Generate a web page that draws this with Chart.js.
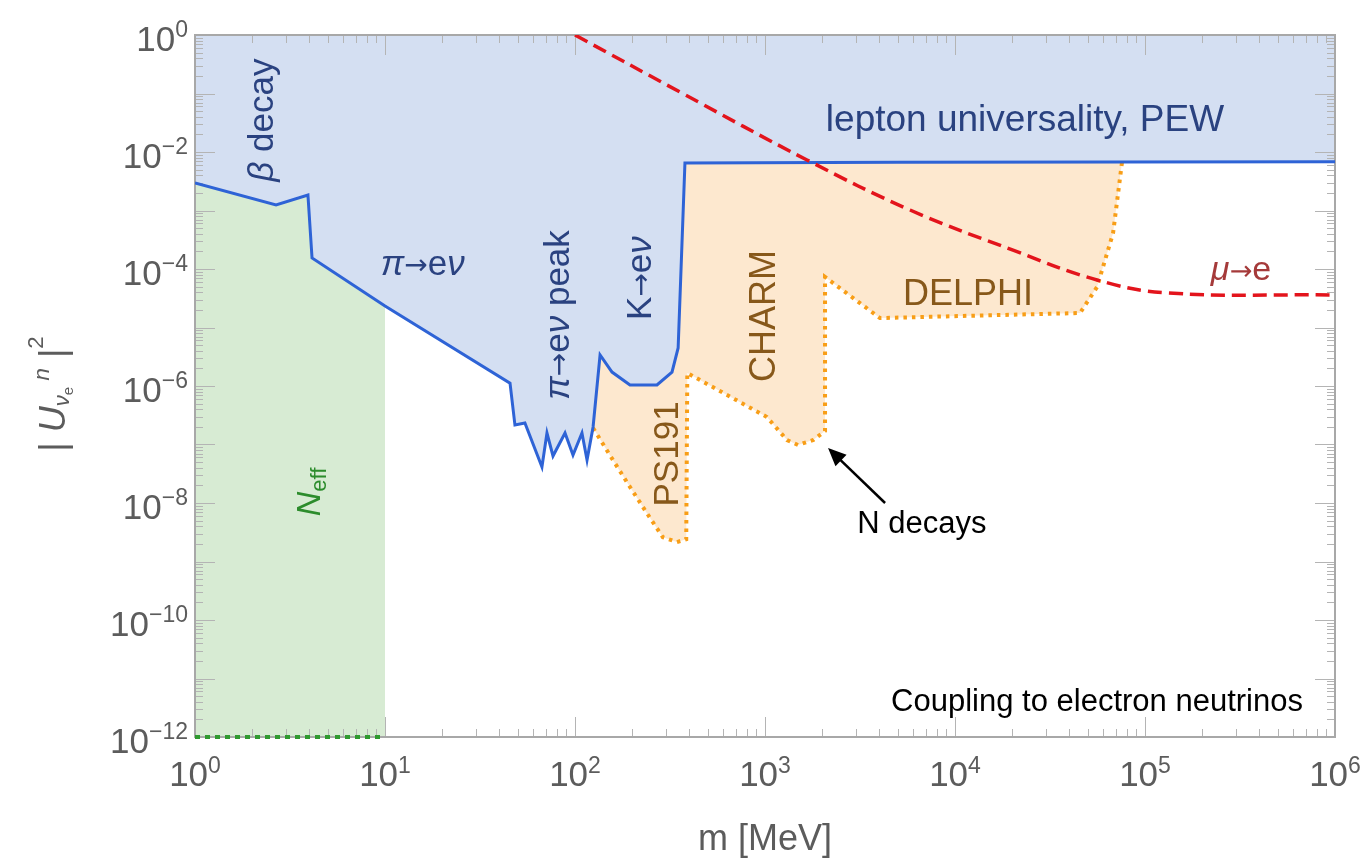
<!DOCTYPE html>
<html>
<head>
<meta charset="utf-8">
<script src="https://cdn.jsdelivr.net/npm/chart.js@4.4.1/dist/chart.umd.min.js"></script>
<style>
  html, body { margin: 0; padding: 0; background: #fff; }
</style>
</head>
<body>
<canvas id="chart" width="1367" height="862"></canvas>
<script>
// combined upper bound on |U|^2 (blue line), mass in MeV
const boundMass = [1, 2.67, 3.93, 4.13, 10, 45.5, 48.3, 54.5, 67, 71.2, 76.6, 88.6, 97.6, 108.8, 115.7,
  124.5, 135.5, 156.6, 194.7, 270, 324, 349, 379, 5000, 1e6];
const boundU2 = [2.95e-3, 1.24e-3, 1.84e-3, 1.54e-4, 2.33e-5, 1.12e-6, 2.15e-7, 2.33e-7, 4.12e-8, 1.57e-7, 6.36e-8,
  1.57e-7, 6.62e-8, 1.57e-7, 5.43e-8, 1.99e-7, 3.39e-6, 1.73e-6, 1.04e-6, 1.04e-6, 1.73e-6, 4.47e-6, 6.49e-3, 6.7e-3, 6.8e-3];

// N_eff excludes everything below this mass
const neffMaxMass = 10;
const neffFloor = 1e-12;

// direct searches for N decays (PS191, CHARM, DELPHI), lower edge
const decayMass = [124.5, 158.5, 194.7, 239, 290, 344, 385, 390, 1023, 1306, 1492, 1800, 2070, 2070,
  4027, 45500, 55900, 67900, 75700];
const decayU2 = [1.91e-7, 5.4e-8, 1.88e-8, 6.7e-9, 2.6e-9, 2.15e-9, 2.4e-9, 1.67e-6, 2.95e-7, 1.19e-7, 9.8e-8,
  1.2e-7, 1.7e-7, 7.3e-5, 1.45e-5, 1.77e-5, 4.9e-5, 4.1e-4, 6.75e-3];

// mu -> e conversion (red dashed)
const muMass = [100, 357, 1664, 5800, 20200, 55900, 130600, 1e6];
const muU2 = [1.0, 0.106, 7.3e-3, 1.02e-3, 2.1e-4, 6.5e-5, 3.9e-5, 3.6e-5];

// axis ticks
const xTickValues = [1, 10, 100, 1e3, 1e4, 1e5, 1e6];
const xTickExps = ['0', '1', '2', '3', '4', '5', '6'];
const yTickValues = [1, 1e-2, 1e-4, 1e-6, 1e-8, 1e-10, 1e-12];
const yTickExps = ['0', '\u22122', '\u22124', '\u22126', '\u22128', '\u221210', '\u221212'];

const NAVY = '#2a4280', BROWN = '#87581a', GREY = '#5c5c5c';
const FONT = '"Liberation Sans", Arial, Helvetica, sans-serif';
const ARROW = { t: '\u2192', f: '"DejaVu Sans"', s: 0.8, dy: -0.02 };

// text labels placed in data coordinates
const labels = [
  { segs: [{ t: '\u03b2', i: 1 }, { t: ' decay' }], x: 2.2, y: 0.035, rot: -90, color: NAVY, size: 35 },
  { segs: [{ t: '\u03c0', i: 1 }, ARROW, { t: 'e' }, { t: '\u03bd', i: 1 }], x: 15.8, y: 1.32e-4, rot: 0, color: NAVY, size: 35 },
  { segs: [{ t: '\u03c0', i: 1 }, ARROW, { t: 'e' }, { t: '\u03bd', i: 1 }, { t: ' peak' }], x: 79.4, y: 1.64e-5, rot: -90, color: NAVY, size: 35 },
  { segs: [{ t: 'K' }, ARROW, { t: 'e' }, { t: '\u03bd', i: 1 }], x: 215, y: 7.0e-5, rot: -90, color: NAVY, size: 35 },
  { segs: [{ t: 'lepton universality, PEW' }], x: 23350, y: 0.0381, rot: 0, color: NAVY, size: 37 },
  { segs: [{ t: 'CHARM' }], x: 964, y: 1.57e-5, rot: -90, color: BROWN, size: 36 },
  { segs: [{ t: 'DELPHI' }], x: 11700, y: 4.04e-5, rot: 0, color: BROWN, size: 36 },
  { segs: [{ t: 'PS191' }], x: 298, y: 6.9e-8, rot: -90, color: BROWN, size: 35 },
  { segs: [{ t: '\u03bc', i: 1 }, ARROW, { t: 'e' }], x: 320000, y: 1.04e-4, rot: 0, color: '#a53a3a', size: 34 },
  { segs: [{ t: 'N', i: 1 }, { t: 'eff', s: 0.65, dy: 0.2 }], x: 3.9, y: 1.55e-8, rot: -90, color: '#2c8c2c', size: 34 },
  { segs: [{ t: 'N decays' }], x: 6700, y: 4.7e-9, rot: 0, color: '#000', size: 31 },
  { segs: [{ t: 'Coupling to electron neutrinos' }], x: 55900, y: 4.3e-12, rot: 0, color: '#000', size: 31 }
];
const arrowFrom = { x: 4285, y: 1e-8 };
const arrowTo = { x: 2147, y: 8.7e-8 };

const pts = (xs, ys) => xs.map((v, i) => ({ x: v, y: ys[i] }));
const boundPts = pts(boundMass, boundU2);
const neffPts = boundPts.filter(p => p.x <= neffMaxMass);
const decayPts = pts(decayMass, decayU2);
const lo = decayMass[0], hi = decayMass[decayMass.length - 1];
const decayShape = decayPts.concat(boundPts.filter(p => p.x >= lo && p.x <= hi).reverse());

function drawRich(ctx, segs, cx, cy, size, color, rot) {
  ctx.save();
  ctx.translate(cx, cy);
  if (rot) ctx.rotate(rot * Math.PI / 180);
  let total = 0;
  const parts = segs.map(s => {
    const font = (s.i ? 'italic ' : '') + (size * (s.s || 1)) + 'px ' + (s.f || FONT);
    ctx.font = font;
    const w = ctx.measureText(s.t).width;
    total += w;
    return { t: s.t, font, w, dy: (s.dy || 0) * size };
  });
  let xx = -total / 2;
  ctx.fillStyle = color;
  ctx.textAlign = 'left';
  ctx.textBaseline = 'alphabetic';
  parts.forEach(p => {
    ctx.font = p.font;
    ctx.fillText(p.t, xx, size * 0.36 + p.dy);
    xx += p.w;
  });
  ctx.restore();
}

// frame with inward ticks (under the curves)
const frame = {
  id: 'frame',
  beforeDatasetsDraw(chart) {
    const { ctx, chartArea: a, scales: { x, y } } = chart;
    ctx.save();
    ctx.strokeStyle = '#b4b4b4';
    ctx.lineWidth = 1;
    ctx.beginPath();
    for (let d = 0; d < 6; d++) {
      for (let k = 1; k <= 9; k++) {
        const px = Math.round(x.getPixelForValue(k * Math.pow(10, d))) + 0.5;
        const len = k === 1 ? 20 : 8;
        ctx.moveTo(px, a.bottom); ctx.lineTo(px, a.bottom - len);
        ctx.moveTo(px, a.top); ctx.lineTo(px, a.top + len);
      }
    }
    for (let d = -12; d < 0; d++) {
      for (let k = 1; k <= 9; k++) {
        const py = Math.round(y.getPixelForValue(k * Math.pow(10, d))) + 0.5;
        const len = k === 1 ? 20 : 8;
        ctx.moveTo(a.left, py); ctx.lineTo(a.left + len, py);
        ctx.moveTo(a.right, py); ctx.lineTo(a.right - len, py);
      }
    }
    ctx.stroke();
    ctx.strokeStyle = '#a8a8a8';
    ctx.lineWidth = 2;
    ctx.strokeRect(a.left, a.top, a.right - a.left, a.bottom - a.top);
    ctx.restore();
  }
};

// tick labels, axis titles and annotations
const decorations = {
  id: 'decorations',
  afterDatasetsDraw(chart) {
    const { ctx, chartArea: a, scales: { x, y } } = chart;
    ctx.save();
    ctx.fillStyle = GREY;
    ctx.textBaseline = 'alphabetic';
    const big = '35px ' + FONT, small = '23px ' + FONT;
    xTickValues.forEach((v, i) => {
      const px = x.getPixelForValue(v);
      ctx.font = big; const w1 = ctx.measureText('10').width;
      ctx.font = small; const w2 = ctx.measureText(xTickExps[i]).width;
      const x0 = px - (w1 + w2) / 2;
      ctx.font = big; ctx.textAlign = 'left'; ctx.fillText('10', x0, a.bottom + 49);
      ctx.font = small; ctx.fillText(xTickExps[i], x0 + w1, a.bottom + 36);
    });
    yTickValues.forEach((v, i) => {
      const py = y.getPixelForValue(v);
      const right = a.left - 7;
      ctx.font = small; const w2 = ctx.measureText(yTickExps[i]).width;
      ctx.textAlign = 'left';
      ctx.fillText(yTickExps[i], right - w2, py + 2);
      ctx.font = big; ctx.textAlign = 'right';
      ctx.fillText('10', right - w2, py + 16);
    });

    drawRich(ctx, [{ t: 'm [MeV]' }], (a.left + a.right) / 2, a.bottom + 100, 36, GREY, 0);
    drawRich(ctx, [{ t: '| ' }, { t: 'U', i: 1 }, { t: '\u03bd', i: 1, s: 0.62, dy: 0.1 },
      { t: 'e', s: 0.42, dy: 0.22 }, { t: ' n', i: 1, s: 0.62, dy: -0.45 }, { t: ' |' }, { t: '2', s: 0.62, dy: -0.6 }],
      a.left - 143, (a.top + a.bottom) / 2 + 8, 36, GREY, -90);

    labels.forEach(l => drawRich(ctx, l.segs, x.getPixelForValue(l.x), y.getPixelForValue(l.y), l.size, l.color, l.rot));

    // arrow to the N decays region
    const x1 = x.getPixelForValue(arrowFrom.x), y1 = y.getPixelForValue(arrowFrom.y);
    const x2 = x.getPixelForValue(arrowTo.x), y2 = y.getPixelForValue(arrowTo.y);
    const ang = Math.atan2(y2 - y1, x2 - x1);
    ctx.strokeStyle = '#000'; ctx.fillStyle = '#000'; ctx.lineWidth = 2.5;
    ctx.beginPath();
    ctx.moveTo(x1, y1);
    ctx.lineTo(x2 - 12 * Math.cos(ang), y2 - 12 * Math.sin(ang));
    ctx.stroke();
    ctx.beginPath();
    ctx.moveTo(x2, y2);
    ctx.lineTo(x2 - 18 * Math.cos(ang) + 8 * Math.sin(ang), y2 - 18 * Math.sin(ang) - 8 * Math.cos(ang));
    ctx.lineTo(x2 - 18 * Math.cos(ang) - 8 * Math.sin(ang), y2 - 18 * Math.sin(ang) + 8 * Math.cos(ang));
    ctx.closePath();
    ctx.fill();
    ctx.restore();
  }
};

new Chart(document.getElementById('chart'), {
  type: 'line',
  data: {
    datasets: [
      {
        // mu -> e
        data: pts(muMass, muU2),
        borderColor: '#e3141c',
        borderWidth: 3.5,
        borderDash: [14, 7],
        tension: 0.4,
        fill: false
      },
      {
        // combined bound, excluded region above it
        data: boundPts,
        borderColor: '#2e63d6',
        borderWidth: 3,
        backgroundColor: '#d4dff2',
        fill: 'end'
      },
      {
        // N_eff floor
        data: [{ x: 1, y: neffFloor }, { x: neffMaxMass, y: neffFloor }],
        borderColor: '#2f9a2f',
        borderWidth: 4,
        borderDash: [5, 5],
        clip: 4,
        fill: false
      },
      {
        // direct search edge
        data: decayPts,
        borderColor: '#f89e17',
        borderWidth: 4,
        borderDash: [3.5, 5],
        fill: false
      },
      {
        // direct search excluded area
        data: decayShape,
        borderWidth: 0,
        borderColor: 'rgba(0,0,0,0)',
        backgroundColor: '#fde8cf',
        fill: 'shape'
      },
      {
        // N_eff excluded area
        data: neffPts,
        borderWidth: 0,
        borderColor: 'rgba(0,0,0,0)',
        backgroundColor: '#d7ebd3',
        fill: 'start'
      }
    ]
  },
  options: {
    responsive: false,
    animation: false,
    layout: { padding: { left: 195, right: 32, top: 35, bottom: 125 } },
    elements: { point: { radius: 0 }, line: { tension: 0 } },
    scales: {
      x: { type: 'logarithmic', min: 1, max: 1e6, display: false },
      y: { type: 'logarithmic', min: 1e-12, max: 1, display: false }
    },
    plugins: {
      legend: { display: false },
      tooltip: { enabled: false },
      filler: { drawTime: 'beforeDatasetsDraw' }
    }
  },
  plugins: [frame, decorations]
});
</script>
</body>
</html>
